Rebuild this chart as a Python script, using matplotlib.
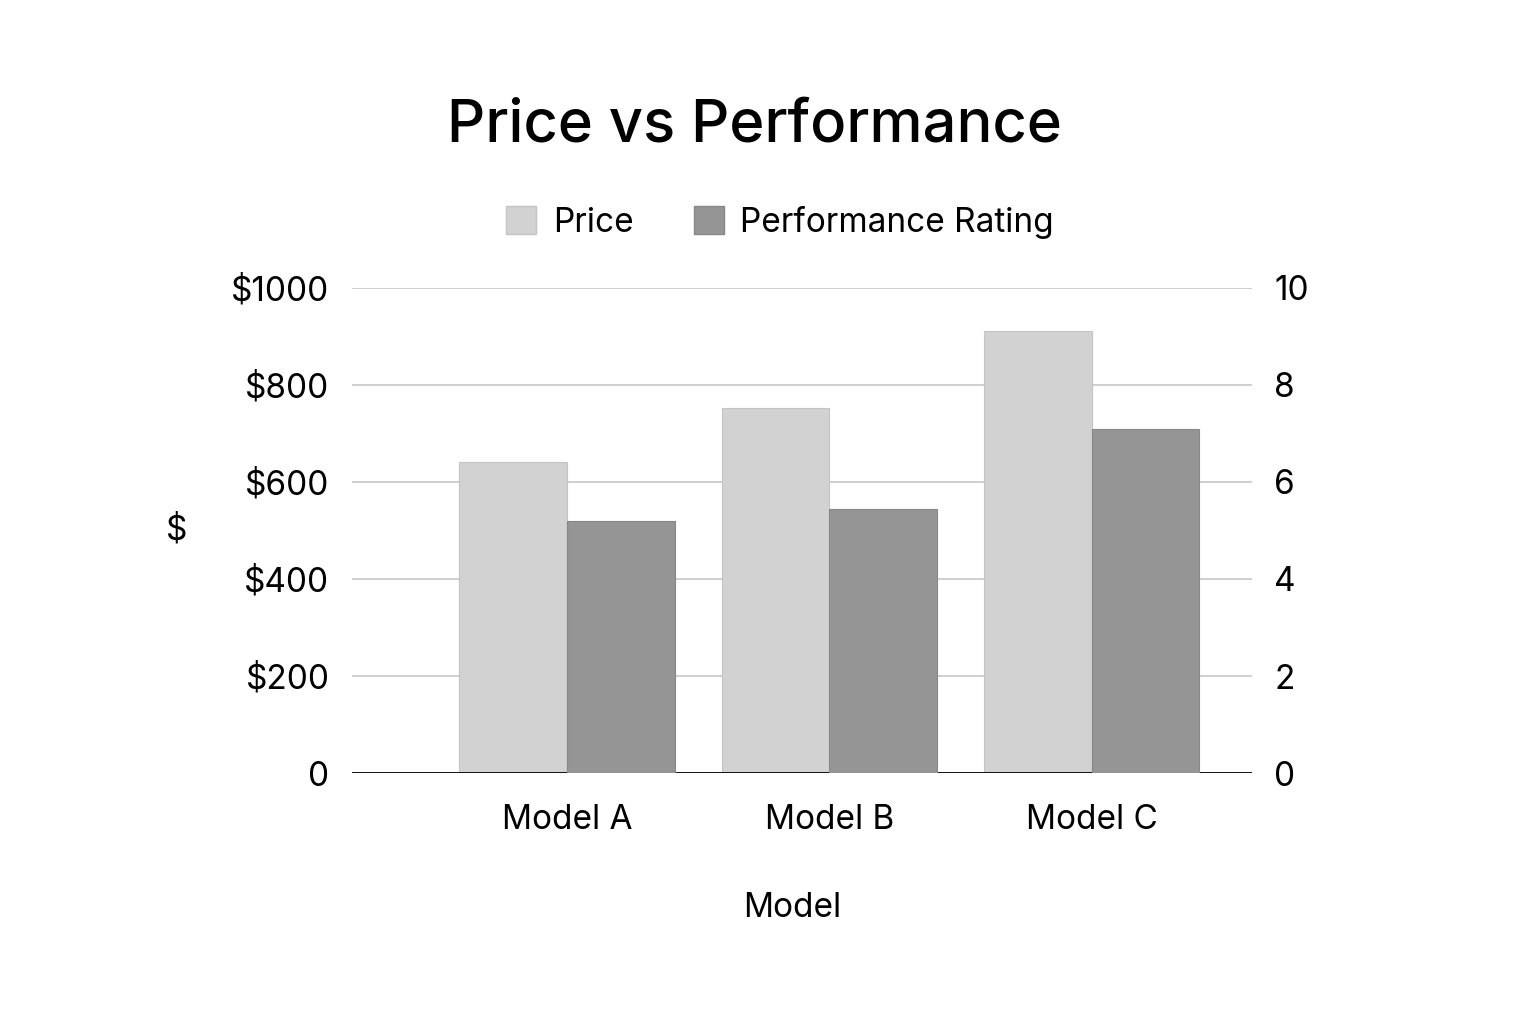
import matplotlib.pyplot as plt
import numpy as np
from matplotlib.patches import Patch

plt.rcParams['font.family'] = ['Inter', 'DejaVu Sans']

models = ['Model A', 'Model B', 'Model C']
price = [640, 752, 910]
performance = [5.2, 5.45, 7.1]
left_ticks = [0, 200, 400, 600, 800, 1000]
left_labels = ['0', '$200', '$400', '$600', '$800', '$1000']
right_ticks = [0, 2, 4, 6, 8, 10]

price_color = '#d2d2d2'
perf_color = '#959595'

fig = plt.figure(figsize=(15.36, 10.24), dpi=100)
ax = fig.add_axes([0.229, 0.245, 0.586, 0.474])
ax2 = ax.twinx()

x = np.arange(len(models))
w = 0.41
ax.bar(x - w / 2, price, width=w, color=price_color, edgecolor='#c4c4c4', linewidth=0.8, zorder=3)
ax2.bar(x + w / 2, performance, width=w, color=perf_color, edgecolor='#888888', linewidth=0.8, zorder=3)

ax.set_xlim(-0.82, 2.61)
ax.set_ylim(0, 1000)
ax2.set_ylim(0, 10)

ax.set_yticks(left_ticks)
ax.set_yticklabels(left_labels)
ax2.set_yticks(right_ticks)
ax.set_xticks(x)
ax.set_xticklabels(models)

ax.grid(axis='y', color='#cccccc', linewidth=1.3, zorder=0)
ax.set_axisbelow(True)
for a in (ax, ax2):
    for s in ['top', 'left', 'right', 'bottom']:
        a.spines[s].set_visible(False)
ax.axhline(0, color='black', linewidth=2, zorder=5)

ax.tick_params(axis='y', length=0, pad=16, labelsize=24)
ax2.tick_params(axis='y', length=0, pad=16, labelsize=24)
ax.tick_params(axis='x', length=0, pad=22, labelsize=24)

ax.set_xlabel('Model', fontsize=24, labelpad=41)
ax.xaxis.set_label_coords(0.489, -0.245)
ax.set_ylabel('$', fontsize=24, rotation=0, labelpad=39, va='center')

fig.text(0.491, 0.877, 'Price vs Performance', fontsize=43, fontweight='medium',
         ha='center', va='center')

handles = [Patch(facecolor=price_color, edgecolor='#c4c4c4', label='Price'),
           Patch(facecolor=perf_color, edgecolor='#888888', label='Performance Rating')]
fig.legend(handles=handles, loc='center', bbox_to_anchor=(0.508, 0.783), ncol=2,
           frameon=False, fontsize=24, handlelength=0.9, handleheight=0.9,
           handletextpad=0.5, columnspacing=1.8)

fig.savefig('out.png', dpi=100, facecolor='white')
